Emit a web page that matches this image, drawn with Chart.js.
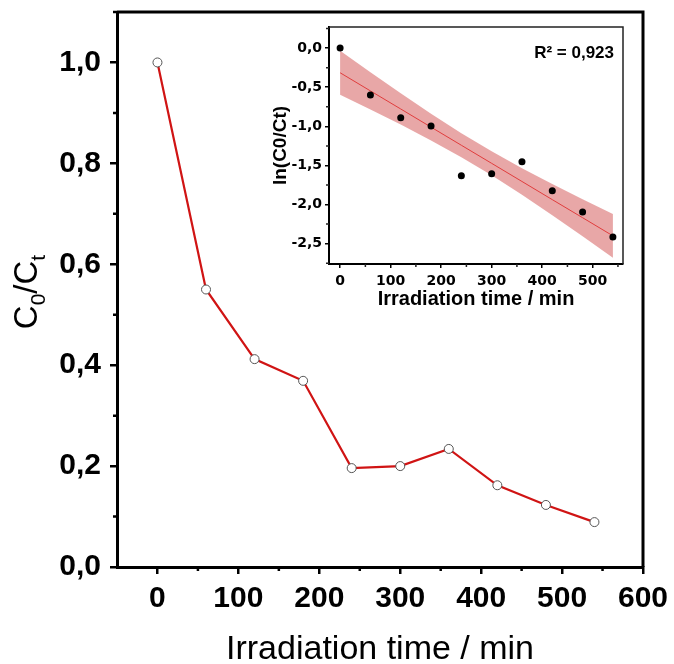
<!DOCTYPE html>
<html>
<head>
<meta charset="utf-8">
<script src="https://cdn.jsdelivr.net/npm/chart.js@4.4.0/dist/chart.umd.min.js"></script>
<style>
    body { margin: 0; background: #fff; }
    #wrap { position: relative; width: 674px; height: 664px; }
    #mainChart { position: absolute; left: 0; top: 0; }
    #insetChart { position: absolute; left: 265px; top: 18px; }
</style>
</head>
<body>
<div id="wrap">
    <canvas id="mainChart" width="674" height="664"></canvas>
    <canvas id="insetChart" width="370" height="300"></canvas>
</div>

<script>
    // irradiation time (min)
    var timeMin = [0, 60, 120, 180, 240, 300, 360, 420, 480, 540];
    // C0/Ct, main plot
    var ratioC0Ct = [1.0, 0.55, 0.412, 0.369, 0.196, 0.200, 0.234, 0.162, 0.123, 0.089];
    // ln(C0/Ct), inset
    var lnRatio = [0, -0.60, -0.889, -0.995, -1.633, -1.607, -1.454, -1.824, -2.096, -2.415];
    // linear fit and confidence band
    var fitLine = [-0.315, -0.547, -0.778, -1.010, -1.242, -1.473, -1.705, -1.937, -2.168, -2.400];
    var bandUpper = [-0.035, -0.310, -0.578, -0.840, -1.089, -1.320, -1.535, -1.737, -1.931, -2.120];
    var bandLower = [-0.595, -0.784, -0.978, -1.180, -1.395, -1.626, -1.875, -2.137, -2.405, -2.680];
    var r2Label = 'R² = 0,923';

    var FONT = "'Liberation Sans', Arial, sans-serif";
    var WIDE = "'DejaVu Sans', sans-serif";
    Chart.defaults.font.family = FONT;
    Chart.defaults.color = '#000';

    function pts(xs, ys) {
        var out = [];
        for (var i = 0; i < xs.length; i++) {
            out.push({ x: xs[i], y: ys[i] });
        }
        return out;
    }

    function comma(v) {
        return v.toFixed(1).replace('.', ',');
    }

    // no extra room for edge labels, chart area is set by hand
    function fixW(w) {
        return function (s) { s.width = w; s.paddingTop = 0; s.paddingBottom = 0; };
    }
    function fixH(h) {
        return function (s) { s.height = h; s.paddingLeft = 0; s.paddingRight = 0; };
    }

    // top/right frame + short minor ticks
    var frameMinor = {
        id: 'frameMinor',
        afterDraw: function (chart, args, o) {
            var ctx = chart.ctx, ca = chart.chartArea;
            var sx = chart.scales.x, sy = chart.scales.y;
            ctx.save();
            ctx.strokeStyle = o.color;
            ctx.lineWidth = o.frame;
            ctx.beginPath();
            ctx.moveTo(ca.left, ca.top);
            ctx.lineTo(ca.right, ca.top);
            ctx.lineTo(ca.right, ca.bottom);
            ctx.stroke();
            ctx.lineWidth = o.tickWidth;
            ctx.beginPath();
            for (var v = o.xStart; v < sx.max; v += o.xStep) {
                var px = sx.getPixelForValue(v);
                ctx.moveTo(px, ca.bottom);
                ctx.lineTo(px, ca.bottom + o.len);
            }
            for (var w = o.yStart; w < sy.max; w += o.yStep) {
                var py = sy.getPixelForValue(w);
                ctx.moveTo(ca.left, py);
                ctx.lineTo(ca.left - o.len, py);
            }
            ctx.stroke();
            ctx.restore();
        }
    };

    // y title with subscripts: C0/Ct
    var mainYTitle = {
        id: 'mainYTitle',
        afterDraw: function (chart) {
            var ctx = chart.ctx;
            var parts = [['C', 33, 0], ['0', 21, 8], ['/C', 33, 0], ['t', 21, 8]];
            ctx.save();
            var total = 0;
            parts.forEach(function (p) {
                ctx.font = p[1] + 'px ' + FONT;
                total += ctx.measureText(p[0]).width;
            });
            ctx.translate(37, 292);
            ctx.rotate(-Math.PI / 2);
            ctx.fillStyle = '#000';
            ctx.textBaseline = 'alphabetic';
            var x = -total / 2;
            parts.forEach(function (p) {
                ctx.font = p[1] + 'px ' + FONT;
                ctx.fillText(p[0], x, p[2]);
                x += ctx.measureText(p[0]).width;
            });
            ctx.restore();
        }
    };

    var r2Plugin = {
        id: 'r2Plugin',
        afterDraw: function (chart) {
            var ctx = chart.ctx;
            ctx.save();
            ctx.font = 'bold 17px ' + FONT;
            ctx.fillStyle = '#000';
            ctx.textAlign = 'right';
            ctx.textBaseline = 'alphabetic';
            ctx.fillText(r2Label, chart.chartArea.right - 9, chart.chartArea.top + 31);
            ctx.restore();
        }
    };

    new Chart(document.getElementById('mainChart'), {
        type: 'line',
        data: {
            datasets: [{
                data: pts(timeMin, ratioC0Ct),
                borderColor: '#d01414',
                borderWidth: 2.2,
                pointRadius: 4.5,
                pointBackgroundColor: '#fff',
                pointBorderColor: '#555',
                pointBorderWidth: 1,
                tension: 0
            }]
        },
        options: {
            responsive: false,
            animation: false,
            devicePixelRatio: 1,
            layout: { padding: { left: 0, right: 31, top: 12, bottom: 0 } },
            plugins: {
                legend: { display: false },
                tooltip: { enabled: false },
                frameMinor: { color: '#000', frame: 3, tickWidth: 2.5, len: 4, xStart: 50, xStep: 100, yStart: 0.1, yStep: 0.2 }
            },
            scales: {
                x: {
                    type: 'linear',
                    min: -50,
                    max: 600,
                    afterFit: fixH(97),
                    ticks: { stepSize: 100, includeBounds: false, padding: 7, font: { size: 30, weight: 'bold' } },
                    grid: { drawOnChartArea: false, tickLength: 7, lineWidth: 2.5, color: '#000' },
                    border: { display: true, width: 3, color: '#000' },
                    title: { display: true, text: 'Irradiation time / min', font: { size: 34, lineHeight: 0.82 }, padding: { top: 0, bottom: 0 } }
                },
                y: {
                    min: 0,
                    max: 1.1,
                    afterFit: fixW(117),
                    ticks: { stepSize: 0.2, includeBounds: false, padding: 9, font: { size: 30, weight: 'bold' }, callback: function (v) { return comma(v); } },
                    grid: { drawOnChartArea: false, tickLength: 7, lineWidth: 2.5, color: '#000' },
                    border: { display: true, width: 3, color: '#000' }
                }
            }
        },
        plugins: [frameMinor, mainYTitle]
    });

    new Chart(document.getElementById('insetChart'), {
        type: 'line',
        data: {
            datasets: [{
                data: pts(timeMin, lnRatio),
                showLine: false,
                pointRadius: 3.5,
                pointBackgroundColor: '#000',
                pointBorderColor: '#000',
                pointBorderWidth: 0
            }, {
                data: pts(timeMin, fitLine),
                borderColor: '#e03c3c',
                borderWidth: 1,
                pointRadius: 0
            }, {
                data: pts(timeMin, bandUpper),
                borderWidth: 0,
                borderColor: 'rgba(0,0,0,0)',
                pointRadius: 0,
                backgroundColor: 'rgba(204,60,60,0.45)',
                fill: '+1'
            }, {
                data: pts(timeMin, bandLower),
                borderWidth: 0,
                borderColor: 'rgba(0,0,0,0)',
                pointRadius: 0,
                fill: false
            }]
        },
        options: {
            responsive: false,
            animation: false,
            devicePixelRatio: 1,
            layout: { padding: { left: 0, right: 12, top: 9, bottom: 0 } },
            plugins: {
                legend: { display: false },
                tooltip: { enabled: false },
                frameMinor: { color: '#222', frame: 1.5, tickWidth: 1.5, len: 3, xStart: 50, xStep: 100, yStart: -2.75, yStep: 0.5 }
            },
            scales: {
                x: {
                    type: 'linear',
                    min: -22,
                    max: 560,
                    afterFit: fixH(54),
                    ticks: { stepSize: 100, includeBounds: false, padding: 5, font: { family: WIDE, size: 14, weight: 'bold' } },
                    grid: { drawOnChartArea: false, tickLength: 4, lineWidth: 1.5, color: '#000' },
                    border: { display: true, width: 2, color: '#000' },
                    title: { display: true, text: 'Irradiation time / min', font: { size: 20, weight: 'bold' }, padding: { top: 0, bottom: 7 } }
                },
                y: {
                    min: -2.76,
                    max: 0.27,
                    afterFit: fixW(64),
                    ticks: { stepSize: 0.5, includeBounds: false, padding: 3, font: { family: WIDE, size: 14, weight: 'bold' }, callback: function (v) { return comma(v); } },
                    grid: { drawOnChartArea: false, tickLength: 4, lineWidth: 1.5, color: '#000' },
                    border: { display: true, width: 2, color: '#000' },
                    title: { display: true, text: 'ln(C0/Ct)', font: { size: 19, weight: 'bold' }, padding: { top: 4, bottom: 0 } }
                }
            }
        },
        plugins: [frameMinor, r2Plugin]
    });
</script>
</body>
</html>
